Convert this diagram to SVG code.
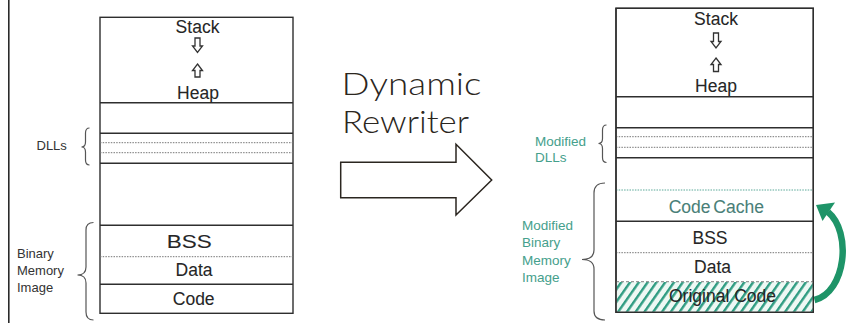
<svg xmlns="http://www.w3.org/2000/svg" width="846" height="323" viewBox="0 0 846 323">
  <style>
    .box { fill: #fff; stroke: #2e2e2e; stroke-width: 1.4; }
    .solid { stroke: #2e2e2e; stroke-width: 1.4; fill: none; }
    .dot { stroke: #777; stroke-width: 1; stroke-dasharray: 1.5 1.2; fill: none; }
    .dotg { stroke: #5aa898; stroke-width: 1; stroke-dasharray: 1.5 1.2; fill: none; }
    .seg { font-family: "Liberation Sans", Arial, sans-serif; font-size: 17.5px; fill: #262626; text-anchor: middle; stroke: #262626; stroke-width: 0.08; }
    .lbl { font-family: "Liberation Sans", Arial, sans-serif; font-size: 13px; fill: #333; }
    .mod { font-family: "Liberation Sans", Arial, sans-serif; font-size: 13.5px; fill: #45a08c; }
    .brace { fill: none; stroke: #555; stroke-width: 1.2; }
    .garrow { fill: #fff; stroke: #333; stroke-width: 1.3; }
    .title { font-family: Lato, "Open Sans", sans-serif; font-weight: 300; font-size: 31px; fill: #2b2620; }
  </style>
  <defs>
    <pattern id="hatch" patternUnits="userSpaceOnUse" width="7.2" height="9" patternTransform="rotate(35)">
      <rect width="7.2" height="9" fill="#eef8f4"/>
      <rect x="0" y="0" width="2.4" height="9" fill="#2f9c82"/>
    </pattern>
  </defs>

  <!-- page edge on the left -->
  <line x1="8.8" y1="0" x2="8.8" y2="323" stroke="#2a2a2a" stroke-width="1.6"/>

  <!-- original process memory layout -->
  <g id="memory-original">
    <rect class="box" x="100" y="17.3" width="193" height="296"/>
    <line class="solid" x1="100" y1="102.7" x2="293" y2="102.7"/>
    <line class="solid" x1="100" y1="133.3" x2="293" y2="133.3"/>
    <line class="dot" x1="100" y1="142.7" x2="293" y2="142.7"/>
    <line class="dot" x1="100" y1="152.7" x2="293" y2="152.7"/>
    <line class="solid" x1="100" y1="163.3" x2="293" y2="163.3"/>
    <line class="solid" x1="100" y1="225.3" x2="293" y2="225.3"/>
    <line class="dot" x1="100" y1="256.7" x2="293" y2="256.7"/>
    <line class="solid" x1="100" y1="284.3" x2="293" y2="284.3"/>
    <text class="seg" x="197.5" y="33.3">Stack</text>
    <polygon class="garrow" points="195,38 200,38 200,46 202.5,46 197.5,52.5 192.5,46 195,46"/>
    <polygon class="garrow" points="197.5,64 202.5,70.5 200,70.5 200,77 195,77 195,70.5 192.5,70.5"/>
    <text class="seg" x="198" y="99.3">Heap</text>
    <text class="seg" x="189.3" y="248" textLength="45" lengthAdjust="spacingAndGlyphs">BSS</text>
    <text class="seg" x="194" y="276">Data</text>
    <text class="seg" x="193.7" y="304.5">Code</text>
  </g>

  <g id="label-dlls">
    <text class="lbl" x="36.5" y="150">DLLs</text>
    <path class="brace" d="M89.5 128 Q85.5 128 85.5 133 L85.5 142 Q85.5 147 81.5 147 Q85.5 147 85.5 152 L85.5 160 Q85.5 165 89.5 165"/>
  </g>

  <g id="label-binary">
    <text class="lbl" x="17" y="258">Binary</text>
    <text class="lbl" x="17" y="275">Memory</text>
    <text class="lbl" x="17" y="292">Image</text>
    <path class="brace" d="M93.5 222.5 Q86 222.5 86 230 L86 267 Q86 275 77.5 275 Q86 275 86 283 L86 312 Q86 320 93.5 320"/>
  </g>

  <!-- transformation arrow -->
  <g id="rewriter">
    <text class="title" x="341.5" y="95" textLength="140" lengthAdjust="spacingAndGlyphs">Dynamic</text>
    <text class="title" x="342" y="133" textLength="127" lengthAdjust="spacingAndGlyphs">Rewriter</text>
    <polygon points="340.7,162.3 456,162.3 456,144.3 491.7,180 456,215 456,197.7 340.7,197.7" fill="#fff" stroke="#2b2620" stroke-width="1.5" stroke-linejoin="miter"/>
  </g>

  <!-- rewritten process memory layout -->
  <g id="memory-modified">
    <rect class="box" x="616" y="8.3" width="197.3" height="304"/>
    <line class="solid" x1="616" y1="96.7" x2="813.3" y2="96.7"/>
    <line class="solid" x1="616" y1="127.7" x2="813.3" y2="127.7"/>
    <line class="dot" x1="616" y1="136.7" x2="813.3" y2="136.7"/>
    <line class="dot" x1="616" y1="147.3" x2="813.3" y2="147.3"/>
    <line class="solid" x1="616" y1="157.7" x2="813.3" y2="157.7"/>
    <line class="dotg" x1="616" y1="190" x2="813.3" y2="190"/>
    <line class="solid" x1="616" y1="221.3" x2="813.3" y2="221.3"/>
    <line class="dot" x1="616" y1="252.7" x2="813.3" y2="252.7"/>
    <rect x="616.7" y="282" width="196" height="29.6" fill="url(#hatch)"/>
    <line x1="616" y1="281.7" x2="813.3" y2="281.7" stroke="#999" stroke-width="1.2" stroke-dasharray="3 2"/>
    <rect x="616" y="8.3" width="197.3" height="304" fill="none" stroke="#2e2e2e" stroke-width="1.4"/>
    <text class="seg" x="716" y="24.5">Stack</text>
    <polygon class="garrow" points="713.5,33 718.5,33 718.5,41.5 721,41.5 716,48 711,41.5 713.5,41.5"/>
    <polygon class="garrow" points="716,58 721,64.5 718.5,64.5 718.5,71.5 713.5,71.5 713.5,64.5 711,64.5"/>
    <text class="seg" x="716" y="92">Heap</text>
    <text class="seg" x="716.3" y="213" style="fill:#4a7f78;stroke:#4a7f78" word-spacing="-2">Code Cache</text>
    <text class="seg" x="710" y="243.5">BSS</text>
    <text class="seg" x="712.5" y="273">Data</text>
    <text class="seg" x="722.5" y="302">Original Code</text>
  </g>

  <g id="label-mod-dlls">
    <text class="mod" x="535" y="146">Modified</text>
    <text class="mod" x="535" y="161.5">DLLs</text>
    <path class="brace" d="M606.5 125 Q602.5 125 602.5 130 L602.5 138.5 Q602.5 143.5 598.5 143.5 Q602.5 143.5 602.5 148.5 L602.5 157.5 Q602.5 162.5 606.5 162.5"/>
  </g>

  <g id="label-mod-binary">
    <text class="mod" x="522" y="229.5">Modified</text>
    <text class="mod" x="522" y="247">Binary</text>
    <text class="mod" x="522" y="264.5">Memory</text>
    <text class="mod" x="522" y="282">Image</text>
    <path class="brace" d="M605 183 Q594 183 594 193 L594 250 Q594 259.5 582 259.5 Q594 259.5 594 269 L594 311 Q594 320 605 320"/>
  </g>

  <!-- relocation of code into the cache -->
  <g id="connectors">
    <path d="M814.5 300 C846 292 852 232 828 212" fill="none" stroke="#1e9468" stroke-width="6.5" stroke-linecap="butt"/>
    <polygon points="816,205 835,202.5 822.5,221" fill="#1e9468"/>
  </g>
</svg>
